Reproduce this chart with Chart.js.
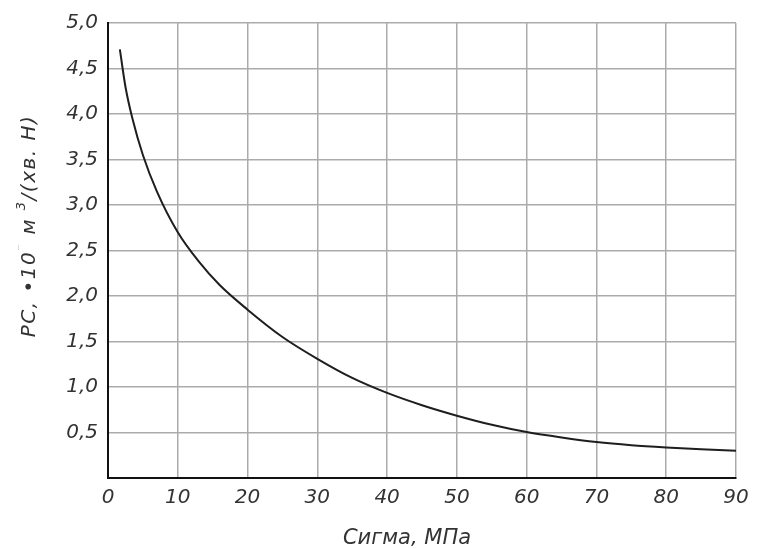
<!DOCTYPE html>
<html>
<head>
<meta charset="utf-8">
<script src="https://cdn.jsdelivr.net/npm/chart.js@4/dist/chart.umd.min.js"></script>
<style>
  html, body { margin: 0; padding: 0; background: #ffffff; }
  #wrap { width: 758px; height: 549px; position: relative; }
</style>
</head>
<body>
<div id="wrap"><canvas id="c" width="758" height="549"></canvas></div>
<script>
// Data
const sigmaValues = [1.7, 2.5, 3.5, 5, 7, 10, 13, 16, 20, 25, 30, 35, 40, 45, 50, 55, 60, 65, 70, 75, 80, 85, 90];
const pcValues    = [4.71, 4.30, 3.95, 3.55, 3.15, 2.70, 2.38, 2.12, 1.85, 1.55, 1.31, 1.10, 0.935, 0.80, 0.685, 0.585, 0.505, 0.445, 0.395, 0.36, 0.335, 0.315, 0.30];
const xTicks = [0, 10, 20, 30, 40, 50, 60, 70, 80, 90];
const yTicks = [0, 0.5, 1.0, 1.5, 2.0, 2.5, 3.0, 3.5, 4.0, 4.5, 5.0];
const xTitle = 'Сигма, МПа';
const yTitleParts = ['PC, •10', '⁻', ' м ', '3', '/(хв. Н)'];

const FONT = '"DejaVu Sans", "Liberation Sans", Arial, sans-serif';

const titlePlugin = {
  id: 'axisTitles',
  afterDraw(chart) {
    const ctx = chart.ctx;
    // x title
    ctx.save();
    ctx.fillStyle = '#333333';
    ctx.font = 'italic 21px ' + FONT;
    ctx.textAlign = 'center';
    ctx.textBaseline = 'middle';
    ctx.fillText(xTitle, 407, 539);
    ctx.restore();

    // y title (rotated)
    ctx.save();
    ctx.translate(30, 226);
    ctx.rotate(-Math.PI / 2);
    ctx.textBaseline = 'middle';
    ctx.textAlign = 'left';
    try { ctx.letterSpacing = '1.5px'; } catch (e) {}
    const big = 'italic 20px ' + FONT;
    const small = 'italic 13px ' + FONT;
    let total = 0;
    const widths = yTitleParts.map((p, i) => {
      ctx.font = (i === 1 || i === 3) ? small : big;
      const w = ctx.measureText(p).width;
      total += w;
      return w;
    });
    let x = -total / 2;
    yTitleParts.forEach((p, i) => {
      const sup = (i === 1 || i === 3);
      ctx.font = sup ? small : big;
      ctx.fillStyle = i === 1 ? '#c8c8c8' : '#333333';
      ctx.fillText(p, x, sup ? -8 : 0);
      x += widths[i];
    });
    ctx.restore();
  }
};

new Chart(document.getElementById('c'), {
  type: 'line',
  data: {
    datasets: [{
      data: sigmaValues.map((s, i) => ({ x: s, y: pcValues[i] })),
      borderColor: '#1e1e1e',
      borderWidth: 2,
      pointRadius: 0,
      fill: false,
      cubicInterpolationMode: 'monotone'
    }]
  },
  options: {
    responsive: false,
    animation: false,
    devicePixelRatio: 1,
    layout: { padding: { top: 23, right: 22, left: 0, bottom: 0 } },
    plugins: { legend: { display: false }, tooltip: { enabled: false } },
    scales: {
      x: {
        type: 'linear',
        min: 0, max: 90,
        afterBuildTicks(scale) { scale.ticks = xTicks.map(v => ({ value: v })); },
        afterFit(scale) { scale.height = 71; },
        grid: { color: '#ababab', lineWidth: 1.5, drawTicks: false },
        border: { display: true, color: '#111111', width: 2 },
        ticks: {
          padding: 8,
          color: '#333333',
          font: { family: FONT, size: 20, style: 'italic' },
          maxRotation: 0,
          callback: v => String(v)
        },
        title: { display: false }
      },
      y: {
        type: 'linear',
        min: 0, max: 5,
        afterBuildTicks(scale) { scale.ticks = yTicks.map(v => ({ value: v })); },
        afterFit(scale) { scale.width = 108; },
        grid: { color: '#ababab', lineWidth: 1.5, drawTicks: false },
        border: { display: true, color: '#111111', width: 2 },
        ticks: {
          padding: 10,
          color: '#333333',
          font: { family: FONT, size: 20, style: 'italic' },
          callback: v => v === 0 ? '' : v.toFixed(1).replace('.', ',')
        },
        title: { display: false }
      }
    }
  },
  plugins: [titlePlugin]
});
</script>
</body>
</html>
